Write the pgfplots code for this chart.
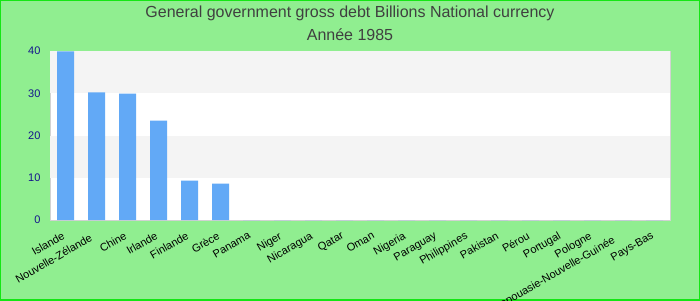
\documentclass[border=0pt]{standalone}
\usepackage{pgfplots}
\pgfplotsset{compat=1.18}
\usepackage{fontspec}
\setmainfont{Liberation Sans}
\definecolor{bg}{RGB}{144,238,144}
\definecolor{edge}{RGB}{20,230,20}
\definecolor{barcol}{RGB}{98,169,246}
\definecolor{band}{RGB}{244,244,244}
\definecolor{framecol}{RGB}{210,210,210}
\definecolor{ytickcol}{RGB}{20,20,140}
\definecolor{ttl}{RGB}{64,64,64}
\begin{document}
\begin{tikzpicture}
\useasboundingbox (0pt,0pt) rectangle (700pt,300pt);
\clip (0pt,0pt) rectangle (700pt,300pt);
\fill[bg] (0pt,0pt) rectangle (700pt,300pt);
\draw[edge, line width=2pt] (0pt,0pt) rectangle (700pt,300pt);
\node[text=ttl, font=\fontsize{16}{19}\selectfont] at (350pt,287pt) {General government gross debt Billions National currency};
\node[text=ttl, font=\fontsize{16}{19}\selectfont] at (350pt,265pt) {Année 1985};
\begin{axis}[
  at={(50pt,80pt)}, anchor=south west,
  scale only axis, width=620pt, height=169pt,
  xmin=-0.5, xmax=19.5, ymin=0, ymax=40,
  axis line style={framecol},
  axis background/.style={fill=white},
  major tick length=0pt,
  ytick={0,10,20,30,40},
  yticklabel style={text=ytickcol, font=\fontsize{11}{13}\selectfont, xshift=-6pt},
  /pgf/number format/assume math mode=true,
  xtick={0,2,3,4,5,6,7,8,9,10,11,12,13,14,15,16,17,19},
  xticklabels={Islande,Chine,Irlande,Finlande,Grèce,Panama,Niger,Nicaragua,Qatar,Oman,Nigeria,Paraguay,Philippines,Pakistan,Pérou,Portugal,Pologne,Pays-Bas},
  xticklabel style={xshift=-4pt, yshift=-11pt, rotate=30, anchor=north east, font=\fontsize{11}{13}\selectfont, inner sep=0pt},
  extra x ticks={1,18},
  extra x tick labels={Nouvelle-Zélande\kern4pt,Papouasie-Nouvelle-Guinée\kern9pt},
  ybar, bar width=17pt,
  clip=false,
]
\fill[band] (axis cs:-0.5,10) rectangle (axis cs:19.5,20);
\fill[band] (axis cs:-0.5,30) rectangle (axis cs:19.5,40);
\addplot[fill=barcol, draw=none] coordinates {
(0,39.9) (1,30.2) (2,29.9) (3,23.5) (4,9.3) (5,8.6)
(6,0) (7,0) (8,0) (9,0) (10,0) (11,0) (12,0) (13,0) (14,0) (15,0) (16,0) (17,0) (18,0) (19,0)};
\end{axis}
\end{tikzpicture}
\end{document}
